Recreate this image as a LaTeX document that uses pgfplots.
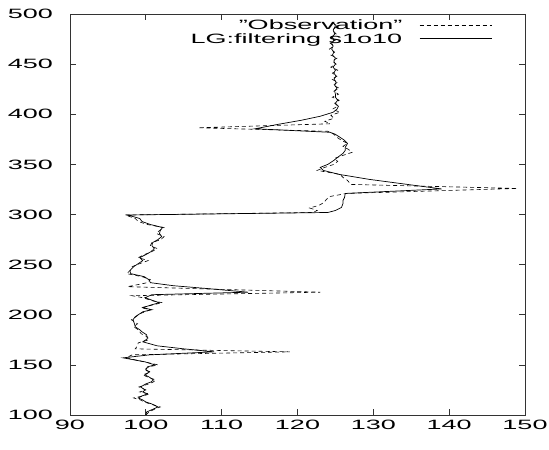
\documentclass[border=0pt]{standalone}
\usepackage{fontspec}
\setmainfont{Liberation Sans}[FakeStretch=2.0]
\usepackage{pgfplots}
\pgfplotsset{compat=1.18}
\usepackage{pgfplotstable}

\pgfplotstableread{
d v
100 100.0
103 100.4
106 101.2
108 101.9
111 100.6
113 99.8
115 99.3
117 98.4
119 99.6
121 100.5
123 99.2
125 100.0
128 99.1
131 100.4
133 101.0
135 101.3
138 100.2
140 99.6
143 100.6
145 99.8
148 100.4
150 101.6
153 99.8
157 97.4
160 98.2
163 119.0
166 98.6
169 98.9
172 99.0
175 100.4
178 100.2
181 99.4
185 99.0
188 98.4
191 98.9
195 98.1
198 98.7
201 99.2
203 99.9
205 100.6
207 99.4
210 101.0
212 102.2
214 100.8
217 99.6
219 98.2
222.5 123.0
228 97.6
232 100.2
235 100.6
238 99.5
241 97.5
244 97.9
248 98.2
251 99.2
254 100.3
257 99.0
260 99.8
263 100.8
266 101.5
269 100.6
272 100.8
275 102.0
278 102.4
281 101.4
284 101.8
287 102.4
290 100.2
293 99.0
296 98.6
299.5 97.3
302 122.0
304 122.6
306.5 121.6
309 122.8
312 123.5
315 123.8
318 124.3
321 126.5
326 149.0
330 127.0
334 126.6
337 126.0
340 125.6
344 122.6
347 123.6
350 124.8
353 125.3
356 124.9
359 126.0
362 127.2
365 126.7
368 126.0
371 126.6
374 125.8
377 125.2
380 124.8
383 124.0
386.5 106.9
390.5 124.3
393 123.6
396 124.8
399 124.4
402 125.6
405 124.6
408 125.3
411 124.9
414 125.5
417 124.6
420 125.4
423 124.8
426 125.5
429 124.7
432 125.3
435 124.5
438 125.2
441 124.6
444 125.3
447 124.4
450 125.1
453 124.6
456 125.2
459 124.4
462 124.9
465 124.2
468 124.8
471 124.3
474 125.0
477 124.4
480 125.1
484 124.6
488 125.3
491 124.6
}\obs

\pgfplotstableread{
d v
100 100.0
103 100.1
106 101.0
108 101.6
111 100.8
113 100.0
115 99.6
117 99.0
119 99.5
121 100.2
123 99.6
125 99.9
128 99.3
131 100.0
133 100.7
135 101.0
138 100.4
140 99.9
143 100.5
145 100.0
148 100.2
150 101.2
153 99.9
157 97.0
160 100.5
163 109.0
166 105.0
169 101.5
173 99.6
176 100.2
180 100.1
183 99.5
185 99.2
188 98.6
191 98.5
195 98.3
198 98.6
201 99.2
203 99.6
205 100.8
207 99.6
210 100.8
212 101.8
214 101.0
217 99.9
220 100.8
222.5 113.5
226 108.3
229 103.6
232 100.6
235 100.4
238 99.8
241 98.0
244 97.9
248 98.4
251 99.0
254 99.6
257 99.2
260 100.0
263 100.7
266 101.1
269 100.8
272 100.9
275 101.6
278 102.1
281 101.8
284 101.9
287 102.2
290 100.6
293 99.5
296 99.2
299.5 97.6
302 124.0
304 125.0
307 125.8
311 126.0
314 126.0
317 126.2
321 126.3
325.5 139.0
330 134.5
335 129.5
340 125.5
344 123.4
347 123.0
350 124.0
354 124.8
357 125.3
361 126.0
364 126.3
367 126.3
371 126.6
374 126.2
377 125.6
380 125.0
382 124.3
385.5 114.4
390 117.5
394 120.5
398 123.0
402 124.7
405 125.2
408 125.4
411 125.0
414 125.3
417 125.0
420 125.0
423 124.9
426 125.2
429 124.9
432 125.1
435 124.8
438 125.1
441 124.8
444 125.0
447 124.7
450 125.0
453 124.8
456 125.0
459 124.6
462 124.8
465 124.5
468 124.7
471 124.5
474 124.8
477 124.6
480 124.9
484 124.7
488 125.0
491 124.8
}\filt

\begin{document}
\begin{tikzpicture}
\useasboundingbox (0,0) rectangle (549bp,450bp);
\begin{axis}[
  at={(70bp,35bp)}, anchor=south west,
  width=455bp, height=401bp, scale only axis,
  xmin=90, xmax=150, ymin=100, ymax=500,
  xtick={90,100,...,150}, ytick={100,150,...,500},
  tick align=inside, major tick length=6bp,
  axis line style={black!80, line width=0.7bp},
  tick style={black!80, line width=0.7bp},
  /pgf/number format/assume math mode=true,
  tick label style={font=\fontsize{13.5bp}{16bp}\selectfont, inner sep=0pt},
  xticklabel style={yshift=-5bp},
  yticklabel style={xshift=-17bp},
  legend style={draw=none, fill=none, at={(axis description cs:0.9275,0.9715)},
    anchor=north east, inner sep=0pt, outer sep=0pt,
    font=\fontsize{13.5bp}{16bp}\selectfont,
    nodes={inner sep=0pt},
    column sep=17bp, row sep=7bp},
  legend cell align=right, legend plot pos=right,
  legend image code/.code={\draw[#1] (0bp,5bp) -- (72bp,5bp);},
]
\addplot[black, line width=0.6bp, dash pattern=on 4bp off 3bp] table[x=v, y=d] {\obs};
\addlegendentry{\smash{\symbol{34}Observation\symbol{34}}}
\addplot[black, line width=0.7bp] table[x=v, y=d] {\filt};
\addlegendentry{\smash{LG:filtering s1o10}}
\end{axis}
\end{tikzpicture}
\end{document}
